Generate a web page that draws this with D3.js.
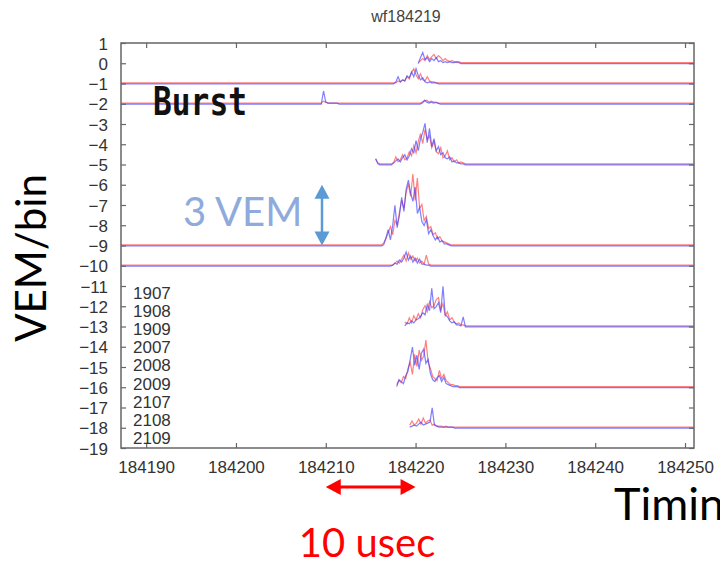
<!DOCTYPE html>
<html>
<head>
<meta charset="utf-8">
<script src="https://cdn.jsdelivr.net/npm/d3@7/dist/d3.min.js"></script>
<style>
  html, body { margin: 0; padding: 0; background: #fff; overflow: hidden; }
  svg { display: block; }
</style>
</head>
<body>
<svg id="chart" width="720" height="570"></svg>
<script>
// ---- data -------------------------------------------------------------
const title = "wf184219";
const xTicks = [184190, 184200, 184210, 184220, 184230, 184240, 184250];
const yTicks = d3.range(1, -20, -1);
const stationLabels = ["1907", "1908", "1909", "2007", "2008", "2009", "2107", "2108", "2109"];

// vertical offset (VEM) of each trace's baseline
const offsets = [0, -1, -2, -5, -9, -10, -13, -16, -18];
// does the trace run in from the left edge of the frame?
const fromLeft = [false, true, true, false, true, true, false, false, false];
// time (usec) of the first sample of each stored waveform
const startTimes = [184220.3, 184217.8, 184209.5, 184215.55, 184216.45, 184217.45, 184218.8, 184217.9, 184219.35];
const binWidth = 0.25; // usec per sample

// signal above baseline, VEM/bin : red = upper PMT, blue = lower PMT
const redSignals = [
  [0, 0.1, 0.2, 0.1, 0.35, 0.15, 0.3, 0.4, 0.2, 0.35, 0.25, 0.1, 0.2, 0.1, 0.05, 0.1, 0.05, 0, 0.05, 0],
  [0, 0.1, 0.05, 0.15, 0.1, 0.3, 0.2, 0.5, 0.7, 0.4, 0.2, 0.45, 0.15, 0.1, 0.3, 0.1, 0.05, 0.05, 0, 0],
  [0, 0.1, 0.05, 0, 0, 0, 0, 0, 0, 0,
   0, 0, 0, 0, 0, 0, 0, 0, 0, 0,
   0, 0, 0, 0, 0, 0, 0, 0, 0, 0,
   0, 0, 0, 0, 0, 0, 0, 0, 0, 0,
   0, 0, 0, 0, 0, 0.05, 0.1, 0.15, 0.05, 0.1, 0.05, 0.05, 0, 0],
  [0.25, 0.05, 0, 0, 0, 0, 0, 0, 0.05, 0.35, 0.1, 0.2, 0.45, 0.2, 0.3, 0.6, 0.4, 0.9, 0.55, 1.1,
   1.5, 1.0, 1.7, 1.2, 1.4, 0.8, 1.1, 0.6, 0.5, 0.8, 0.3, 0.4, 0.65, 0.2, 0.3, 0.1, 0.2, 0.05, 0.1, 0.05, 0],
  [0.1, 0.3, 0.6, 0.9, 0.5, 1.2, 1.0, 1.6, 2.2, 1.8, 2.6, 3.0, 2.4, 3.5, 2.2, 3.3, 1.8, 2.0, 1.2, 1.4,
   0.8, 0.9, 0.5, 0.6, 0.3, 0.4, 0.2, 0.15, 0.1, 0.05, 0],
  [0, 0.1, 0.2, 0.1, 0.3, 0.5, 0.2, 0.6, 0.3, 0.45, 0.2, 0.35, 0.1, 0.2, 0.05, 0.5, 0.05, 0],
  [0.2, 0.1, 0.4, 0.15, 0.5, 0.3, 0.6, 0.4, 0.8, 1.0, 0.7, 1.2, 0.9, 1.0, 1.3, 1.4, 0.8, 1.1, 0.5, 0.7,
   0.3, 0.4, 0.2, 0.1, 0.15, 0.05, 0.05, 0],
  [0.1, 0.3, 0.2, 0.5, 0.4, 0.9, 1.2, 0.6, 1.6, 1.0, 1.8, 1.3, 1.5, 2.3, 1.2, 0.9, 0.5, 0.4, 0.3, 0.8,
   0.4, 0.6, 0.3, 0.2, 0.1, 0.1, 0.05, 0.05, 0, 0],
  [0.1, 0.3, 0.1, 0.2, 0.4, 0.15, 0.45, 0.2, 0.3, 0.35, 0.1, 0.15, 0.05, 0.05, 0.05, 0, 0.05, 0, 0, 0, 0]
];
const blueSignals = [
  [0, 0.3, 0.55, 0.2, 0.3, 0.1, 0.25, 0.15, 0.3, 0.1, 0.15, 0.05, 0.1, 0.05, 0.1, 0.05, 0.05, 0.1, 0.05, 0],
  [0.1, 0.35, 0.1, 0.2, 0.15, 0.4, 0.3, 0.6, 0.35, 0.75, 0.4, 0.2, 0.3, 0.1, 0.05, 0.1, 0.05, 0.05, 0.05, 0],
  [0, 0.65, 0.1, 0.05, 0.05, 0.05, 0.05, 0.05, 0, 0,
   0, 0, 0, 0, 0, 0, 0, 0, 0, 0,
   0, 0, 0, 0, 0, 0, 0, 0, 0, 0,
   0, 0, 0, 0, 0, 0, 0, 0, 0, 0,
   0, 0, 0, 0, 0, 0.05, 0.2, 0.1, 0.05, 0.1, 0.05, 0.08, 0.05, 0],
  [0.3, 0.05, 0, 0, 0, 0, 0, 0, 0.1, 0.2, 0.3, 0.15, 0.35, 0.5, 0.25, 0.45, 0.8, 0.6, 1.2, 0.7,
   1.3, 1.6, 2.05, 1.1, 1.8, 0.9, 1.3, 0.7, 0.9, 0.5, 0.6, 0.35, 0.3, 0.4, 0.15, 0.2, 0.1, 0.1, 0.05, 0.05, 0],
  [0.05, 0.4, 0.8, 0.3, 1.0, 2.0, 0.9, 1.5, 2.4, 1.7, 2.8, 3.25, 2.6, 2.2, 2.9, 1.6, 1.9, 1.2, 1.0, 1.3,
   0.6, 0.8, 0.5, 0.3, 0.45, 0.2, 0.25, 0.1, 0.1, 0.05, 0],
  [0.05, 0.15, 0.1, 0.3, 0.2, 0.4, 0.7, 0.3, 0.5, 0.2, 0.4, 0.15, 0.35, 0.1, 0.1, 0.05, 0.05, 0],
  [0.05, 0.2, 0.15, 0.3, 0.2, 0.35, 0.4, 0.5, 0.7, 0.6, 1.1, 0.8, 1.9, 0.9, 1.0, 1.2, 0.7, 2.0, 0.6, 0.5,
   0.3, 0.2, 0.25, 0.1, 0.1, 0.05, 0.5, 0],
  [0.05, 0.4, 0.3, 0.2, 0.6, 0.8, 1.4, 2.0, 1.1, 1.6, 0.9, 1.7, 1.9, 1.2, 1.4, 0.7, 0.4, 0.3, 0.5, 0.6,
   0.3, 0.5, 0.2, 0.15, 0.1, 0.05, 0.05, 0.05, 0, 0],
  [0.05, 0.1, 0.15, 0.1, 0.2, 0.3, 0.15, 0.2, 0.25, 0.3, 1.0, 0.15, 0.1, 0.05, 0.05, 0.05, 0.05, 0.05, 0.05, 0.05, 0]
];

// ---- layout -----------------------------------------------------------
const svg = d3.select("#chart");
const frame = { left: 121, right: 694, top: 43, bottom: 448 };
const x = d3.scaleLinear().domain([184187.2, 184251]).range([frame.left, frame.right]);
const y = d3.scaleLinear().domain([1, -19]).range([frame.top, frame.bottom]);
const labelFont = "'Liberation Sans', Arial, sans-serif";
const calloutFont = "Lato, 'Open Sans', sans-serif";

svg.append("defs").append("clipPath").attr("id", "plotClip")
  .append("rect")
  .attr("x", frame.left).attr("y", frame.top)
  .attr("width", frame.right - frame.left).attr("height", frame.bottom - frame.top);

// title
svg.append("text")
  .attr("x", 406).attr("y", 22)
  .attr("text-anchor", "middle")
  .style("font-family", labelFont).style("font-size", "16px").style("fill", "#444")
  .text(title);

// ---- traces -----------------------------------------------------------
// baseline segment before the stored samples, the samples, then baseline to the right edge
function tracePoints(i, values) {
  const pts = [];
  const [t0, t1] = x.domain();
  if (fromLeft[i]) {
    pts.push([t0, offsets[i]]);
    pts.push([startTimes[i] - binWidth, offsets[i]]);
  }
  values.forEach((v, k) => pts.push([startTimes[i] + k * binWidth, offsets[i] + v]));
  pts.push([t1, offsets[i]]);
  return pts;
}
const line = d3.line().x(d => x(d[0])).y(d => y(d[1]));

const traces = svg.append("g").attr("clip-path", "url(#plotClip)");
offsets.forEach((off, i) => {
  traces.append("path")
    .attr("d", line(tracePoints(i, redSignals[i])))
    .attr("transform", "translate(0,-0.6)")
    .attr("fill", "none").attr("stroke", "#ff4a4a")
    .attr("stroke-width", 1.2).attr("stroke-opacity", 0.7);
});
offsets.forEach((off, i) => {
  traces.append("path")
    .attr("d", line(tracePoints(i, blueSignals[i])))
    .attr("transform", "translate(0,0.4)")
    .attr("fill", "none").attr("stroke", "#3a3aff")
    .attr("stroke-width", 1.2).attr("stroke-opacity", 0.65);
});

// ---- frame and axes ---------------------------------------------------
const axisColor = "#666";
svg.append("rect")
  .attr("x", frame.left).attr("y", frame.top)
  .attr("width", frame.right - frame.left).attr("height", frame.bottom - frame.top)
  .attr("fill", "none").attr("stroke", axisColor).attr("stroke-width", 1.5);

const tickLen = 5;
function styleAxis(g) {
  g.select(".domain").remove();
  g.selectAll(".tick line").attr("stroke", axisColor).attr("stroke-width", 1.2);
  g.selectAll(".tick text")
    .style("font-family", labelFont).style("font-size", "17px").style("fill", "#333");
}
// y axis: labels on the left, ticks pointing inward
svg.append("g").attr("transform", `translate(${frame.left},0)`)
  .call(d3.axisRight(y).tickValues(yTicks).tickSize(tickLen).tickFormat(d3.format("d")))
  .call(g => {
    styleAxis(g);
    g.selectAll(".tick text").attr("x", -13).attr("text-anchor", "end").attr("dy", "0.36em");
  });
svg.append("g").attr("transform", `translate(${frame.right},0)`)
  .call(d3.axisLeft(y).tickValues(yTicks).tickSize(tickLen).tickFormat(""))
  .call(g => styleAxis(g));
// x axis: labels below, ticks pointing inward
svg.append("g").attr("transform", `translate(0,${frame.bottom})`)
  .call(d3.axisTop(x).tickValues(xTicks).tickSize(tickLen).tickFormat(d3.format("d")))
  .call(g => {
    styleAxis(g);
    g.selectAll(".tick text").attr("y", 25).attr("dy", "0").attr("text-anchor", "middle");
  });
svg.append("g").attr("transform", `translate(0,${frame.top})`)
  .call(d3.axisBottom(x).tickValues(xTicks).tickSize(tickLen).tickFormat(""))
  .call(g => styleAxis(g));

// station list inside the frame
svg.append("g").selectAll("text").data(stationLabels).join("text")
  .attr("x", 133).attr("y", (d, i) => 299 + i * 18.1)
  .style("font-family", labelFont).style("font-size", "17px").style("fill", "#333")
  .text(d => d);

// "Burst" tag
svg.append("text")
  .attr("x", 153).attr("y", 115)
  .attr("textLength", 94).attr("lengthAdjust", "spacingAndGlyphs")
  .style("font-family", "'DejaVu Sans Mono', monospace").style("font-weight", "bold")
  .style("font-size", "39px").style("fill", "#111")
  .text("Burst");

// ---- callouts ---------------------------------------------------------
function doubleArrow(g, x1, y1, x2, y2, color, width, headLen, headHalf) {
  const ang = Math.atan2(y2 - y1, x2 - x1);
  const ux = Math.cos(ang), uy = Math.sin(ang);
  g.append("line")
    .attr("x1", x1 + ux * headLen * 0.8).attr("y1", y1 + uy * headLen * 0.8)
    .attr("x2", x2 - ux * headLen * 0.8).attr("y2", y2 - uy * headLen * 0.8)
    .attr("stroke", color).attr("stroke-width", width);
  const head = (px, py, dx, dy) => {
    const bx = px - dx * headLen, by = py - dy * headLen;
    return `M${px},${py}L${bx - dy * headHalf},${by + dx * headHalf}L${bx + dy * headHalf},${by - dx * headHalf}Z`;
  };
  g.append("path").attr("d", head(x2, y2, ux, uy)).attr("fill", color);
  g.append("path").attr("d", head(x1, y1, -ux, -uy)).attr("fill", color);
}

const notes = svg.append("g");
// 3 VEM scale bar
doubleArrow(notes, 322, y(-6), 322, y(-9), "#5b9bd5", 2.5, 14, 7.5);
notes.append("text")
  .attr("x", 183).attr("y", 226)
  .style("font-family", calloutFont).style("font-size", "40px").style("fill", "#8faadc")
  .text("3 VEM");

// 10 usec scale bar
doubleArrow(notes, x(184210), 487, x(184220), 487, "#ff0000", 3, 15, 8);
notes.append("text")
  .attr("x", 367).attr("y", 557)
  .attr("text-anchor", "middle")
  .style("font-family", calloutFont).style("font-size", "40px").style("fill", "#ff0000")
  .text("10 usec");

// axis titles
notes.append("text")
  .attr("transform", "translate(46,258) rotate(-90)")
  .attr("text-anchor", "middle")
  .style("font-family", calloutFont).style("font-size", "42px").style("fill", "#000")
  .text("VEM/bin");
notes.append("text")
  .attr("x", 614).attr("y", 520)
  .style("font-family", calloutFont).style("font-size", "45px").style("fill", "#000")
  .text("Timing");
</script>
</body>
</html>
